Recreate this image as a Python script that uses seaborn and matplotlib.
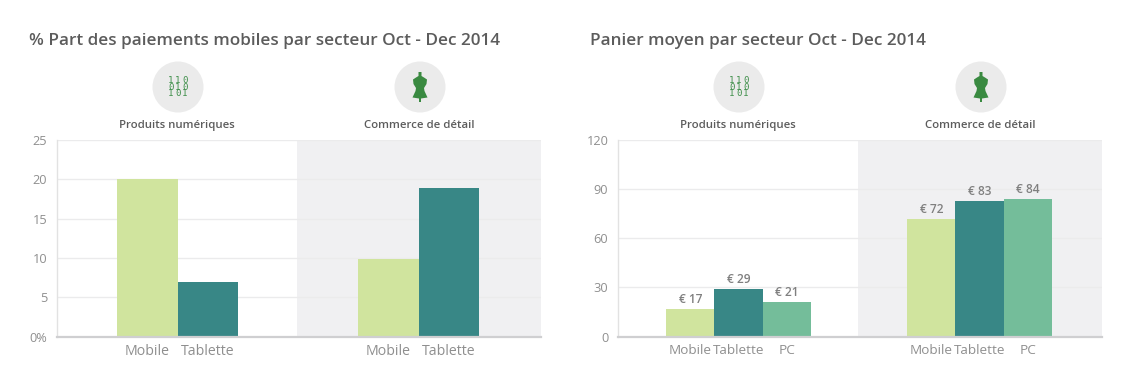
import matplotlib
matplotlib.use('Agg')
import matplotlib.pyplot as plt
from matplotlib.patches import Circle, Polygon
import pandas as pd
import seaborn as sns

W, H = 1144, 387

secteurs = ['Produits numériques', 'Commerce de détail']

appareils_part = ['Mobile', 'Tablette']
part_mobile = [20.1, 9.9]
part_tablette = [6.9, 18.9]

appareils_panier = ['Mobile', 'Tablette', 'PC']
panier_mobile = [17, 72]
panier_tablette = [29, 83]
panier_pc = [21, 84]

titre_part = '% Part des paiements mobiles par secteur Oct - Dec 2014'
titre_panier = 'Panier moyen par secteur Oct - Dec 2014'

ticks_part = [0, 5, 10, 15, 20, 25]
labels_part = ['0%', '5', '10', '15', '20', '25']
ticks_panier = [0, 30, 60, 90, 120]
labels_panier = ['0', '30', '60', '90', '120']

VERT_CLAIR = '#d0e49e'
TEAL = '#388786'
VERT = '#74bd9a'

sns.set_theme(style='white')
plt.rcParams['font.family'] = ['Open Sans', 'DejaVu Sans']

fig = plt.figure(figsize=(W / 100, H / 100), dpi=100, facecolor='white')


def make_axes(x0, x1, y0, y1):
    return fig.add_axes([x0 / W, 1 - y1 / H, (x1 - x0) / W, (y1 - y0) / H])


def long_table(appareils, series):
    rows = []
    for nom, vals in zip(appareils, series):
        for s, v in zip(secteurs, vals):
            rows.append({'secteur': s, 'appareil': nom, 'valeur': v})
    return pd.DataFrame(rows)


def draw_panel(ax, df, appareils, colors, width, ticks, labels, xsize):
    sns.barplot(data=df, x='secteur', y='valeur', hue='appareil', order=secteurs,
                hue_order=appareils, palette=colors, width=width, gap=0,
                saturation=1, legend=False, ax=ax, zorder=3, linewidth=0)
    ax.set_xlim(-0.5, 1.508)
    ax.set_ylim(0, ticks[-1])
    ax.axvspan(0.496, 1.508, color='#f0f0f2', zorder=0, lw=0)
    ax.set_yticks(ticks)
    ax.set_yticklabels(labels, color='#8f8f8f', fontsize=9.2)
    ax.yaxis.grid(True, color='#ebebec', lw=1, zorder=1)
    ax.xaxis.grid(False)
    ax.set_axisbelow(True)
    ax.set_xlabel('')
    ax.set_ylabel('')
    # one tick per bar, taken from the bars themselves
    pos, names = [], []
    for nom, cont in zip(appareils, ax.containers):
        for b in cont:
            pos.append(b.get_x() + b.get_width() / 2)
            names.append(nom)
    ax.set_xticks(pos)
    ax.set_xticklabels(names, color='#8f8f8f', fontsize=xsize)
    ax.tick_params(axis='both', length=0)
    ax.tick_params(axis='x', pad=5.5)
    ax.tick_params(axis='y', pad=7)
    for s in ['top', 'right']:
        ax.spines[s].set_visible(False)
    ax.spines['left'].set_color('#e2e2e2')
    ax.spines['left'].set_linewidth(1)
    ax.spines['bottom'].set_color('#cfcfd1')
    ax.spines['bottom'].set_linewidth(1.6)
    ax.spines['bottom'].set_zorder(4)


ax1 = make_axes(57, 541, 140, 336.5)
df_part = long_table(appareils_part, [part_mobile, part_tablette])
draw_panel(ax1, df_part, appareils_part, [VERT_CLAIR, TEAL], 0.5, ticks_part, labels_part, 10.2)

ax2 = make_axes(618, 1102, 140, 336.5)
df_panier = long_table(appareils_panier, [panier_mobile, panier_tablette, panier_pc])
draw_panel(ax2, df_panier, appareils_panier, [VERT_CLAIR, TEAL, VERT], 0.6, ticks_panier, labels_panier, 9.7)
for cont in ax2.containers:
    ax2.bar_label(cont, fmt='€ %d', color='#7f7f7f', fontsize=8.6, fontweight='semibold',
                  padding=2.2, zorder=5)

# overlay in pixels for titles and icons
over = fig.add_axes([0, 0, 1, 1], facecolor='none')
over.set_xlim(0, W)
over.set_ylim(H, 0)
over.axis('off')

over.text(29, 45, titre_part, fontsize=12.3, fontweight='semibold', color='#5c5c5c', va='baseline')
over.text(590, 45, titre_panier, fontsize=12.3, fontweight='semibold', color='#5c5c5c', va='baseline')


def icon_binaire(cx, cy):
    over.add_patch(Circle((cx, cy), 25.5, fc='#ebebeb', ec='none'))
    for i, ligne in enumerate(['110', '010', '101']):
        for j, c in enumerate(ligne):
            over.text(cx + (j - 1) * 7, cy - 6.5 + i * 6.5, c, fontsize=6.6, color='#3f8f4a',
                      ha='center', va='center', family='DejaVu Sans Mono')


def icon_mannequin(cx, cy):
    over.add_patch(Circle((cx, cy), 25.5, fc='#ebebeb', ec='none'))
    pts = [(-1.5, -11), (-4, -9.5), (-7, -7.5), (-6.5, -3), (-4, 1), (-4.5, 4), (-7.5, 10.5),
           (-1, 11.5), (-1, 15), (1, 15), (1, 11.5), (7.5, 10.5), (4.5, 4), (4, 1),
           (6.5, -3), (7, -7.5), (4, -9.5), (1.5, -11), (1.5, -15), (-1.5, -15)]
    over.add_patch(Polygon([(cx + a, cy + b) for a, b in pts], fc='#3a8a41', ec='none'))


for bin_x, robe_x in [(178, 420), (739, 981)]:
    icon_binaire(bin_x, 87)
    icon_mannequin(robe_x, 87)
    over.text(bin_x - 1, 128, secteurs[0], fontsize=8.2, fontweight='semibold', color='#5c5c5c',
              ha='center', va='baseline')
    over.text(robe_x - 1, 128, secteurs[1], fontsize=8.2, fontweight='semibold', color='#5c5c5c',
              ha='center', va='baseline')

fig.savefig('out.png', dpi=100, facecolor='white')
